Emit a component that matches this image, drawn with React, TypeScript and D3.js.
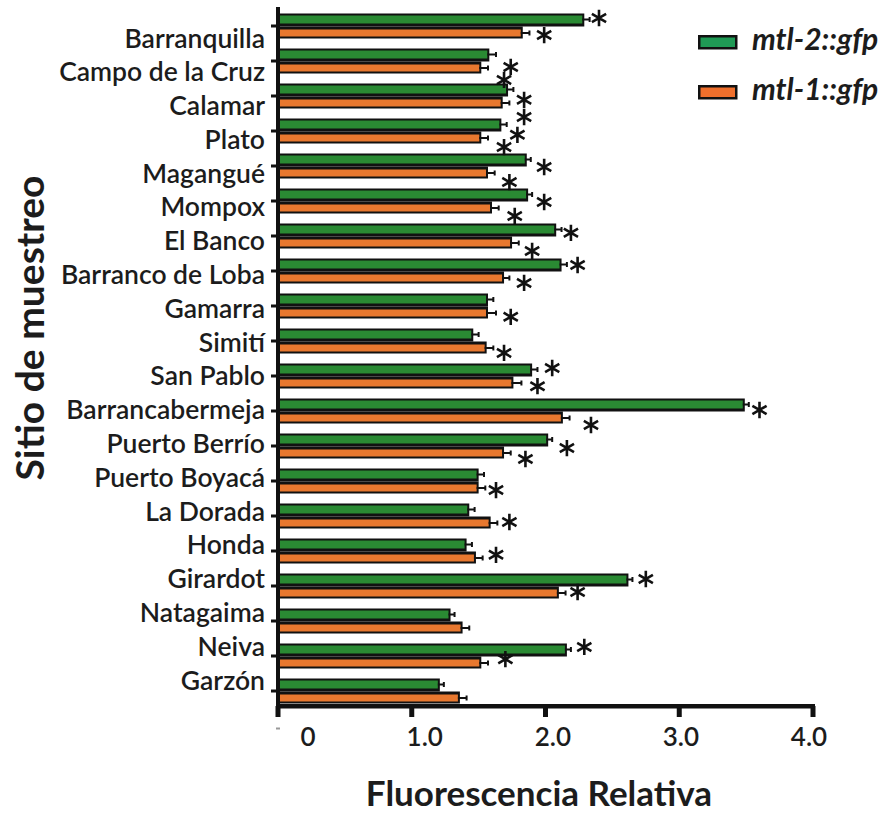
import React from "react";
import * as d3 from "d3";

const categories = [
  "Barranquilla", "Campo de la Cruz", "Calamar", "Plato", "Magangué", "Mompox",
  "El Banco", "Barranco de Loba", "Gamarra", "Simití", "San Pablo", "Barrancabermeja",
  "Puerto Berrío", "Puerto Boyacá", "La Dorada", "Honda", "Girardot", "Natagaima",
  "Neiva", "Garzón",
];
const mtl2 = [2.29, 1.58, 1.72, 1.67, 1.86, 1.87, 2.08, 2.12, 1.57, 1.46, 1.9, 3.49, 2.02, 1.5, 1.43, 1.41, 2.62, 1.29, 2.16, 1.21];
const mtl2Err = [0.04, 0.05, 0.04, 0.04, 0.03, 0.03, 0.04, 0.04, 0.04, 0.04, 0.04, 0.03, 0.03, 0.04, 0.04, 0.04, 0.03, 0.03, 0.03, 0.03];
const mtl1 = [1.83, 1.52, 1.68, 1.52, 1.57, 1.6, 1.75, 1.69, 1.57, 1.56, 1.76, 2.13, 1.69, 1.5, 1.59, 1.48, 2.1, 1.38, 1.52, 1.36];
const mtl1Err = [0.05, 0.05, 0.05, 0.05, 0.05, 0.05, 0.05, 0.04, 0.06, 0.05, 0.06, 0.05, 0.05, 0.05, 0.05, 0.05, 0.05, 0.05, 0.05, 0.05];
const xTicks = [0, 1, 2, 3, 4];
const xTickLabels = ["0", "1.0", "2.0", "3.0", "4.0"];
// asterisks: [value on x axis, row position (category index units)]
const starValues = [2.40, 1.99, 1.74, 1.69, 1.84, 1.84, 1.79, 1.69, 1.99, 1.73, 1.99, 1.77, 2.19, 1.9, 2.24, 1.84, 1.74, 1.69, 2.05, 1.94, 3.6, 2.34, 2.16, 1.85, 1.63, 1.73, 1.63, 2.75, 2.24, 2.29, 1.7];
const starRows = [-0.23, 0.26, 1.17, 1.54, 2.11, 2.6, 3.11, 3.46, 4.03, 4.46, 5.03, 5.43, 5.91, 6.43, 6.83, 7.34, 8.31, 9.34, 9.77, 10.29, 10.97, 11.4, 12.06, 12.37, 13.26, 14.17, 15.11, 15.8, 16.17, 17.74, 18.09];
const seriesNames = ["mtl-2::gfp", "mtl-1::gfp"];
const seriesColors = ["#2a8a33", "#e8782f"];
const legendColors = ["#1f9a55", "#ef6f2c"];

const W = 892;
const H = 813;
const FONT = "Lato, 'Open Sans', sans-serif";

export default function App() {
  const x = d3.scaleLinear().domain([0, 4]).range([278, 813]);
  const labelX = d3.scaleLinear().domain([0, 1, 4]).range([x(0) + 30, x(1) + 13, x(4) - 4]);
  const y0 = d3.scaleBand<string>().domain(categories).range([8.5, 708.5]).paddingInner(10 / 35).paddingOuter(5 / 35);
  const labelY = d3.scalePoint<string>().domain(categories).range([38, 680]);
  const rowY = d3.scaleLinear().domain([0, categories.length - 1]).range([y0(categories[0])! + y0.bandwidth() / 2, y0(categories[categories.length - 1])! + y0.bandwidth() / 2]);
  const star = d3.symbol().type(d3.symbolAsterisk).size(190)();
  const textColor = "#1c1c1c";

  const bars: React.ReactNode[] = [];
  categories.forEach((c, i) => {
    const top = y0(c)!;
    const c0 = top + 12.5;
    const gv = mtl2[i], ov = mtl1[i];
    bars.push(
      <g key={c}>
        <rect x={x(0)} y={c0 - 12.5} width={x(gv) - x(0)} height={13} fill="#111" />
        <rect x={x(0)} y={c0 - 10.5} width={Math.max(0, x(gv) - x(0) - 2)} height={8} fill={seriesColors[0]} />
        <rect x={x(0)} y={c0 + 0.5} width={x(ov) - x(0)} height={12} fill="#111" />
        <rect x={x(0)} y={c0 + 3.5} width={Math.max(0, x(ov) - x(0) - 2)} height={7} fill={seriesColors[1]} />
        <line x1={x(gv) - 2} x2={x(gv + mtl2Err[i])} y1={c0 - 6.5} y2={c0 - 6.5} stroke="#111" strokeWidth={2} />
        <line x1={x(gv + mtl2Err[i])} x2={x(gv + mtl2Err[i])} y1={c0 - 9} y2={c0 - 4} stroke="#111" strokeWidth={2} />
        <line x1={x(ov) - 2} x2={x(ov + mtl1Err[i])} y1={c0 + 7} y2={c0 + 7} stroke="#111" strokeWidth={2} />
        <line x1={x(ov + mtl1Err[i])} x2={x(ov + mtl1Err[i])} y1={c0 + 4.5} y2={c0 + 9.5} stroke="#111" strokeWidth={2} />
        <rect x={x(0) - 7} y={c0 - 1.5} width={7} height={3} fill="#111" />
      </g>
    );
  });

  return (
    <svg width={W} height={H} style={{ position: "absolute", left: 0, top: 0, background: "#fff" }} fontFamily={FONT}>
      <rect width={W} height={H} fill="#fff" />
      {bars}
      {/* axes */}
      <rect x={x(0) - 2} y={7} width={4} height={703} fill="#111" />
      <rect x={x(0) - 2} y={704} width={x(4) - x(0) + 4} height={4.5} fill="#111" />
      {xTicks.map((t) => (
        <rect key={t} x={x(t) - 2.5} y={706} width={5} height={11} fill="#111" />
      ))}
      <rect x={x(0) - 2} y={727.5} width={4} height={2} fill="#999" />
      {xTicks.map((t, i) => (
        <text key={"l" + t} x={labelX(t)} y={746} textAnchor="middle" fontSize={26} fontWeight={600} fill={textColor}>
          {xTickLabels[i]}
        </text>
      ))}
      {/* category labels */}
      {categories.map((c) => (
        <text key={"c" + c} x={265} y={labelY(c)} dy="0.36em" textAnchor="end" fontSize={26.5} fontWeight={600} fill={textColor}>
          {c}
        </text>
      ))}
      {/* stars */}
      {starValues.map((v, i) => (
        <path key={"s" + i} d={star!} transform={`translate(${x(v)},${rowY(starRows[i])})`} fill="none" stroke="#111" strokeWidth={2.6} />
      ))}
      {/* titles */}
      <text x={539} y={806} textAnchor="middle" fontSize={35} fontWeight={700} fill={textColor}>
        Fluorescencia Relativa
      </text>
      <text transform={`translate(44,328) rotate(-90)`} textAnchor="middle" fontSize={39} fontWeight={700} fill={textColor}>
        Sitio de muestreo
      </text>
      {/* legend */}
      {seriesNames.map((s, i) => (
        <g key={s} transform={`translate(698,${35 + i * 50})`}>
          <rect x={1.25} y={1.25} width={37} height={12} fill={legendColors[i]} stroke="#111" strokeWidth={2.5} />
          <text x={54} y={15} fontSize={30} fontWeight={700} fontStyle="italic" fill={textColor}>
            {s}
          </text>
        </g>
      ))}
    </svg>
  );
}
